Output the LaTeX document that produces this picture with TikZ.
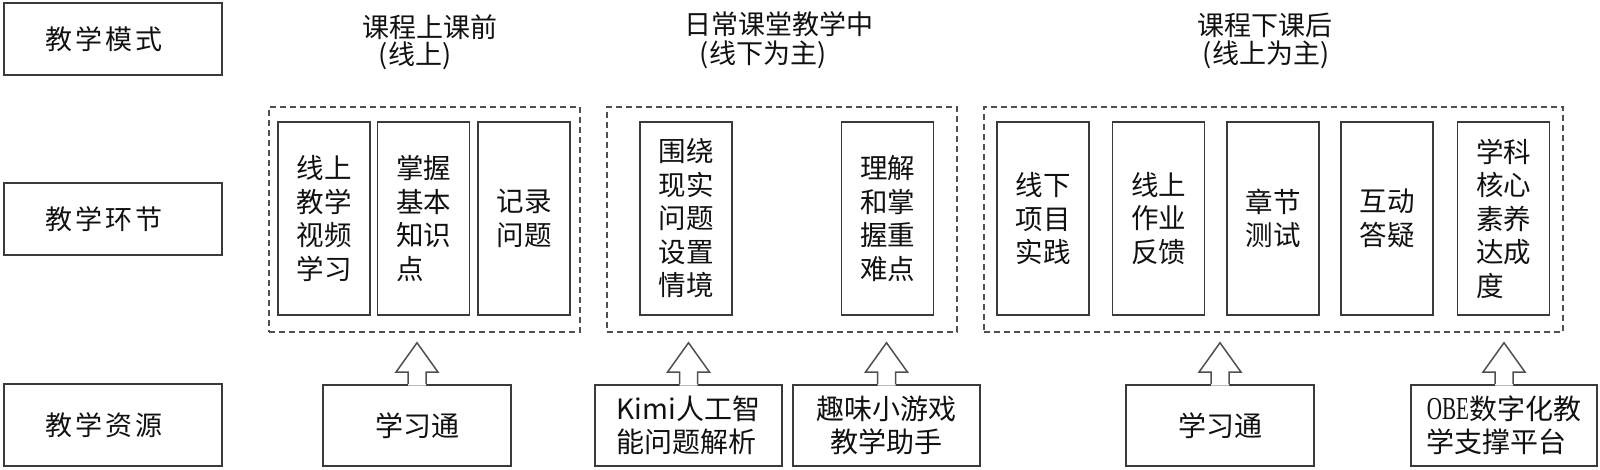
\documentclass[tikz,border=0pt]{standalone}
\usepackage{graphicx}
\usepackage{fontspec}
\setmainfont{Noto Sans CJK SC}
\newfontfamily\cjkls[LetterSpace=12]{Noto Sans CJK SC}
\newfontfamily\obefont{Liberation Serif}
\usetikzlibrary{calc}
\definecolor{boxline}{HTML}{3A3A3A}
\definecolor{dashline}{HTML}{505050}
\definecolor{txt}{HTML}{111111}
\begin{document}
\begin{tikzpicture}[x=1pt,y=-1pt,
  lbox/.style={draw=boxline, line width=1.8pt, minimum width=218, inner sep=0pt, text=txt,
    font=\cjkls\fontsize{27}{32}\selectfont},
  dbox/.style={draw=dashline, line width=1.5pt, dash pattern=on 6pt off 4pt, minimum height=225, inner sep=0pt},
  ibox/.style={draw=boxline, line width=1.8pt, minimum width=92, minimum height=193, inner sep=0pt,
    align=left, text=txt, font=\fontsize{27.5}{33.5}\selectfont},
  bbox/.style={draw=boxline, line width=1.8pt, minimum height=81, inner sep=0pt,
    text=txt, font=\fontsize{28}{33}\selectfont},
  head/.style={inner sep=0pt, text=txt, font=\fontsize{27}{32}\selectfont},
  blk/.style={draw=dashline, line width=1.5pt, line join=miter},
]
\useasboundingbox (0,0) rectangle (1600,469);

% left column
\node[lbox, minimum height=72] (m1) at (113,39) {教学模式\hspace*{18pt}};
\node[lbox, minimum height=72] (m2) at (113,219) {教学环节\hspace*{18pt}};
\node[lbox, minimum height=82] (m3) at (113,425) {教学资源\hspace*{18pt}};

% headers
\node[head] (h1a) at (430,27) {课程上课前};
\node[head] (h1b) at (415,56) {(线上)};
\node[head] (h2a) at (779,24) {日常课堂教学中};
\node[head] (h2b) at (763,55) {(线下为主)};
\node[head] (h3a) at (1265,25) {课程下课后};
\node[head] (h3b) at (1266,55) {(线上为主)};

% dashed groups
\node[dbox, minimum width=311] (d1) at (424.5,219.5) {};
\node[dbox, minimum width=350] (d2) at (782,219.5) {};
\node[dbox, minimum width=579] (d3) at (1273.5,219.5) {};

% inner boxes
\node[ibox] (c11) at (324,218.5) {线上\\教学\\视频\\学习};
\node[ibox] (c12) at (423.5,218.5) {掌握\\基本\\知识\\点};
\node[ibox] (c13) at (524,218.5) {记录\\问题};
\node[ibox] (c21) at (686,218.5) {围绕\\现实\\问题\\设置\\情境};
\node[ibox] (c22) at (887.5,218.5) {理解\\和掌\\握重\\难点};
\node[ibox] (c31) at (1043,218.5) {线下\\项目\\实践};
\node[ibox] (c32) at (1158.5,218.5) {线上\\作业\\反馈};
\node[ibox] (c33) at (1273,218.5) {章节\\测试};
\node[ibox] (c34) at (1387,218.5) {互动\\答疑};
\node[ibox] (c35) at (1503.5,218.5) {学科\\核心\\素养\\达成\\度};

% bottom resources
\node[bbox, minimum width=188] (b1) at (417,425.5) {学习通};
\node[bbox, minimum width=187, align=left] (b2) at (688.5,425.5) {Kimi人工智\\能问题解析};
\node[bbox, minimum width=187, align=center] (b3) at (886.5,425.5) {趣味小游戏\\教学助手};
\node[bbox, minimum width=188] (b4) at (1220,425.5) {学习通};
\node[bbox, minimum width=186, align=left] (b5) at (1504,425.5) {{\fontsize{32}{32}\obefont\scalebox{0.66}[1]{OBE}}数字化教\\学支撑平台};

% block arrows
\newcommand{\blockarrow}[2]{%
  \fill[white] ($(#1.north)+(-9,1.5)$) -- ($(#1.north)+(-9,-12)$) -- ($(#1.north)+(-21,-12)$)
    -- ($(#1.north |- #2.south)+(0,10)$) -- ($(#1.north)+(21,-12)$) -- ($(#1.north)+(9,-12)$)
    -- ($(#1.north)+(9,1.5)$) -- cycle;
  \draw[blk] ($(#1.north)+(-9,0)$) -- ($(#1.north)+(-9,-12)$) -- ($(#1.north)+(-21,-12)$)
    -- ($(#1.north |- #2.south)+(0,10)$) -- ($(#1.north)+(21,-12)$) -- ($(#1.north)+(9,-12)$)
    -- ($(#1.north)+(9,0)$);
}
\blockarrow{b1}{d1}
\blockarrow{b2}{d2}
\blockarrow{b3}{d2}
\blockarrow{b4}{d3}
\blockarrow{b5}{d3}
\end{tikzpicture}
\end{document}
